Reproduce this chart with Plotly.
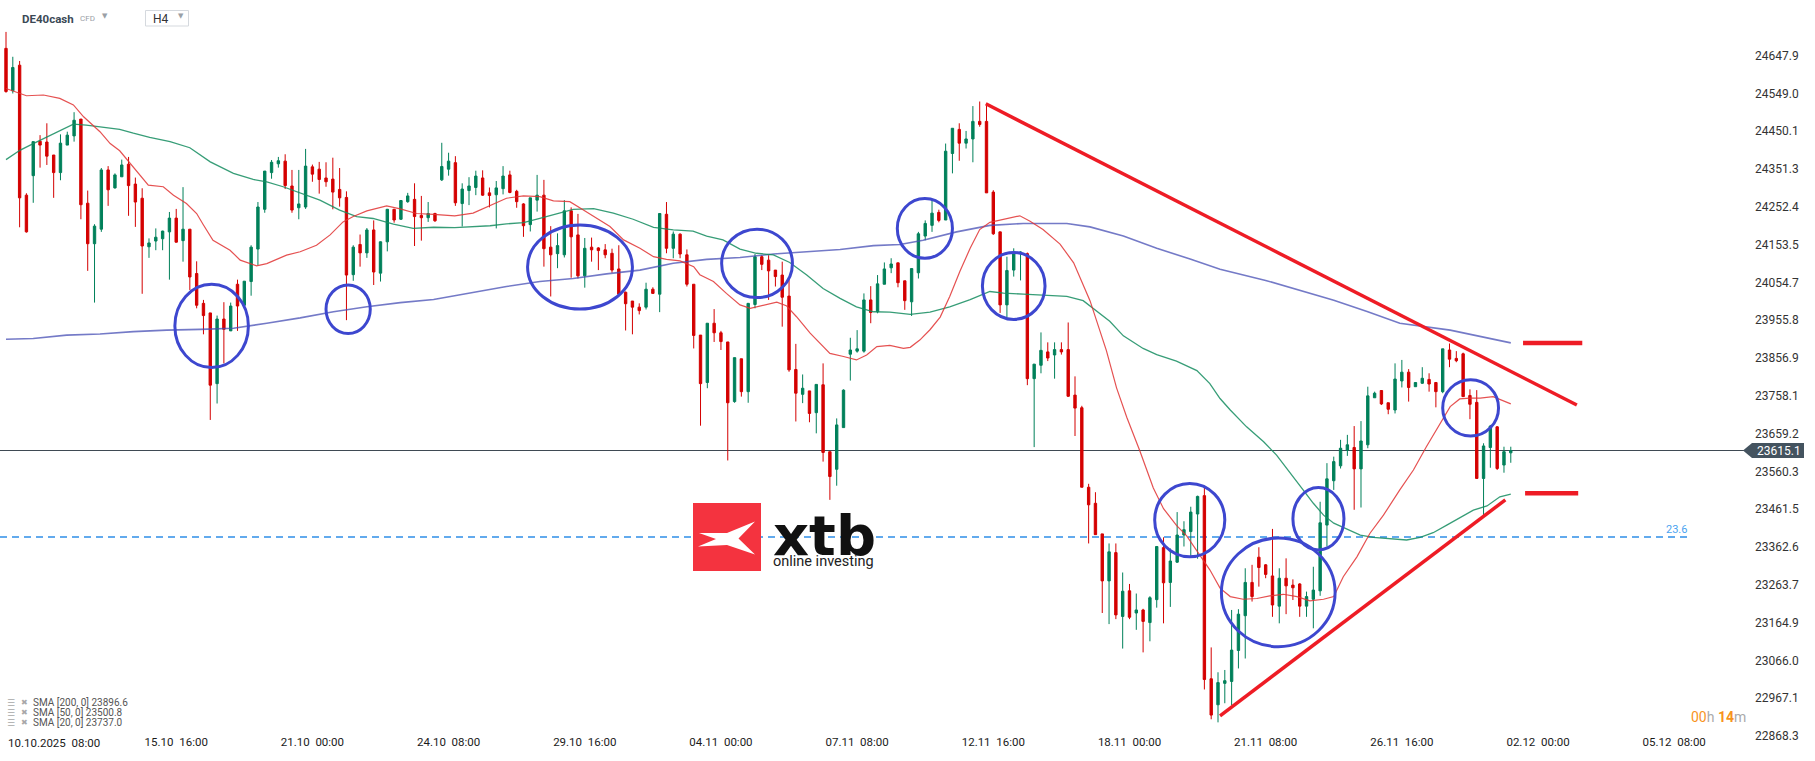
import plotly.graph_objects as go

# ---------------- data ----------------
opens = [24667,24556,24623,24283,24334,24424,24422,24388,24342,24414,
24438,24482,24262,24156,24194,24349,24302,24331,24364,24312,
24275,24148,24163,24169,24187,24223,24164,24194,24078,24000,
23975,23790,23959,23928,24050,23995,24057,24142,24246,24342,
24365,24372,24307,24250,24252,24357,24351,24328,24325,24298,
24277,24075,24154,24132,24192,24079,24161,24246,24220,24266,
24272,24230,24224,24235,24323,24351,24368,24261,24295,24303,
24328,24289,24284,24300,24336,24293,24260,24206,24270,24283,
24147,24130,24127,24242,24179,24072,24147,24145,24140,24131,
24090,24029,24006,23990,23990,24037,24024,24233,24144,24181,
24127,24050,23917,23793,23948,23923,23899,23743,23855,23769,
23997,24122,24113,24087,24074,24019,23827,23762,23771,23714,
23787,23612,23566,23675,23867,23875,23875,24009,23978,24050,
24093,24106,24059,24004,24080,24176,24204,24238,24218,24392,
24455,24419,24430,24476,24476,24291,24187,23996,24087,24131,
24130,23803,23838,23873,23865,23879,23879,23760,23727,23519,
23477,23397,23274,23348,23181,23248,23190,23198,23165,23225,
23361,23270,23323,23394,23403,23449,23497,23018,22950,23006,
23011,23092,23183,23270,23336,23316,23287,23208,23281,23263,
23266,23208,23226,23248,23420,23536,23575,23616,23623,23567,
23630,23753,23772,23740,23721,23797,23820,23782,23791,23801,
23793,23769,23878,23856,23868,23759,23741,23542,23623,23677,
23577,23609]

highs = [24710,24645,24634,24288,24423,24440,24471,24388,24442,24449,
24500,24482,24295,24207,24354,24359,24340,24376,24383,24329,
24301,24170,24196,24190,24239,24247,24304,24194,24110,24009,
23975,23968,24003,24002,24062,24058,24152,24265,24346,24375,
24383,24390,24349,24349,24404,24363,24370,24369,24381,24354,
24293,24152,24180,24197,24217,24162,24247,24247,24269,24289,
24314,24281,24265,24237,24420,24394,24385,24314,24330,24347,
24348,24303,24320,24359,24347,24297,24262,24276,24336,24323,
24202,24183,24270,24251,24234,24171,24172,24147,24155,24143,
24152,24031,24006,24000,24054,24042,24235,24265,24188,24183,
24141,24050,23917,23948,23985,23928,23899,23858,23855,24001,
24129,24126,24126,24087,24109,24064,23894,23814,23771,23788,
23843,23612,23699,23775,23910,23930,24026,24045,24074,24107,
24118,24106,24059,24091,24187,24217,24271,24245,24418,24458,
24471,24451,24516,24528,24522,24296,24187,24122,24144,24136,
24133,23841,23924,23898,23898,23898,23950,23809,23732,23528,
23506,23397,23372,23372,23296,23266,23241,23201,23234,23364,
23388,23359,23454,23430,23468,23497,23517,23100,23035,23041,
23198,23200,23307,23316,23362,23318,23410,23307,23333,23278,
23268,23246,23311,23481,23582,23599,23643,23656,23679,23692,
23782,23769,23773,23740,23843,23852,23828,23793,23833,23817,
23793,23881,23895,23875,23871,23775,23773,23634,23682,23679,
23625,23625]

lows = [24551,24549,24199,24185,24263,24355,24362,24276,24322,24414,
24423,24220,24085,24002,24187,24255,24300,24331,24229,24200,
24025,24119,24139,24139,24062,24159,24109,24035,23987,23919,
23695,23738,23843,23928,23928,23995,24020,24100,24237,24326,
24355,24299,24237,24220,24247,24318,24287,24305,24246,24253,
23956,24059,24096,24119,24048,24057,24136,24211,24218,24263,
24150,24164,24213,24213,24320,24334,24255,24201,24257,24283,
24281,24251,24196,24285,24288,24250,24174,24188,24240,24096,
24018,24092,24120,24067,24065,24041,24109,24087,24118,24080,
24018,23929,23919,23971,23984,24026,23977,24131,24118,24118,
24044,23882,23680,23778,23899,23878,23589,23740,23756,23740,
23987,24087,24009,24044,23939,23821,23691,23739,23689,23660,
23586,23486,23523,23675,23798,23871,23871,23948,23974,24050,
24079,24042,23983,23967,24065,24165,24187,24212,24218,24340,
24373,24405,24369,24462,24289,24179,23975,23964,24070,24060,
23786,23624,23817,23849,23803,23866,23755,23653,23519,23372,
23395,23190,23161,23174,23097,23174,23146,23087,23116,23204,
23163,23206,23321,23364,23337,23332,22990,22912,22904,22954,
22949,23045,23071,23220,23259,23281,23180,23163,23187,23224,
23180,23180,23150,23235,23364,23512,23568,23601,23460,23466,
23621,23753,23734,23710,23712,23780,23743,23782,23789,23769,
23728,23765,23833,23846,23756,23697,23542,23446,23570,23564,
23557,23583]

closes = [24554,24617,24276,24187,24423,24414,24385,24342,24419,24440,
24479,24258,24156,24202,24349,24297,24336,24362,24308,24265,
24150,24158,24173,24189,24223,24160,24194,24069,23995,23968,
23786,23959,23932,23993,23993,24058,24147,24252,24346,24369,
24373,24308,24244,24260,24359,24338,24324,24318,24291,24276,
24074,24147,24132,24192,24082,24161,24246,24218,24269,24281,
24227,24224,24235,24216,24358,24372,24263,24299,24307,24333,
24283,24282,24302,24333,24290,24266,24203,24276,24283,24143,
24127,24151,24242,24174,24072,24144,24140,24138,24127,24087,
24024,23999,23990,23981,24037,24026,24235,24144,24181,24129,
24050,23916,23790,23948,23923,23900,23740,23858,23769,24000,
24122,24102,24085,24070,24016,23826,23765,23778,23712,23788,
23610,23547,23682,23773,23878,23881,24009,23976,24051,24090,
24103,24054,24007,24091,24182,24209,24236,24217,24398,24458,
24419,24430,24476,24468,24289,24182,23996,24086,24133,24134,
23803,23841,23877,23857,23879,23873,23757,23726,23519,23473,
23395,23274,23350,23185,23247,23179,23198,23168,23230,23364,
23269,23326,23394,23408,23454,23495,23016,22923,23008,23013,
23093,23187,23270,23233,23309,23291,23211,23281,23261,23256,
23208,23233,23250,23426,23541,23586,23621,23630,23567,23640,
23758,23765,23737,23723,23802,23820,23780,23793,23804,23789,
23769,23881,23854,23850,23756,23736,23542,23627,23679,23568,
23612,23615.1]

# moving averages (bar position, value)
sma20_pos = [0,3,5.5,7.9,9.9,11.4,13.8,15.3,16.7,18.7,20.9,23.1,24.6,26.5,28,29,30.4,32.9,34.4,36.8,
             38.3,41.2,43.2,45.6,47.6,49.5,51,53,55.9,57.9,60.3,62.8,65.9,68.6,71.1,73.5,76,78.4,80.4,
             82.8,84.8,86.7,88.7,90.7,93.1,95.1,97,99,101,101.9,103.9,105.8,107.8,109.3,111.2,113.2,
             114.6,116.1,118.1,119.5,121,123,124.9,126.4,127.9,129.8,131.8,132.8,134.2,135.7,137.2,
             138.6,140.1,141.6,143,144.5,146.5,148.9,150.4,152.3,154.8,156.8,159.2,161.6,163.1,164.6,
             166.5,168.5,170,171.9,173.4,174.9,176.8,178.3,179.8,181.7,183.7,185.6,187.6,189.6,191.5,
             193.5,195,196.4,198.4,200.3,202.3,204.7,206.7,208.6,210.6,212.1,213.5,215,216.5,218.4,221]
sma20_val = [24562,24543,24545,24536,24519,24488,24449,24418,24399,24357,24309,24305,24283,24261,24235,
             24205,24165,24139,24113,24098,24104,24126,24135,24152,24179,24213,24227,24242,24255,24247,
             24235,24233,24229,24236,24257,24275,24281,24279,24268,24266,24244,24222,24201,24166,24144,
             24122,24115,24111,24096,24075,24057,24026,23996,23987,23994,24003,23994,23965,23922,23895,
             23869,23861,23852,23865,23887,23890,23882,23885,23904,23931,23964,24018,24084,24144,24193,
             24212,24220,24229,24215,24193,24155,24106,24007,23877,23779,23702,23615,23517,23463,23419,
             23392,23354,23303,23255,23233,23226,23228,23235,23239,23233,23222,23226,23233,23285,23337,
             23398,23446,23512,23564,23625,23686,23730,23750,23752,23752,23756,23737.0]

sma50_pos = [0,2.1,4,6,7.9,9.9,11.8,13.8,16.7,18.7,21.1,24.1,27,30,33.4,36.3,38.3,40.7,43.2,46.1,49,
             51.5,53.9,56.9,59.8,62.8,65.9,71.1,73.5,76,78.4,80.9,83.3,86.3,89.2,92.1,95.1,98,100.9,
             102.9,105.3,107.8,110.2,112.7,115.1,117.6,120,122.5,124.9,127.4,129.8,132.8,135.7,138.6,
             141.6,144.5,146.5,149.4,152.3,155.8,158.2,160.2,162.1,164.1,167,169,171.9,174.9,176.8,
             178.3,179.8,182.2,184.7,186.6,188.6,190.5,192,193.5,195,196.9,198.9,200.8,203.8,205.7,
             207.7,209.6,211.6,213.5,215.5,217.5,219.4,221]
sma50_val = [24376,24401,24418,24436,24453,24469,24466,24462,24455,24445,24434,24423,24407,24370,24340,
             24324,24318,24305,24288,24270,24244,24227,24222,24207,24196,24199,24198,24203,24208,24211,
             24222,24235,24246,24248,24236,24220,24199,24192,24189,24176,24166,24142,24131,24127,24107,
             24074,24039,24013,23991,23978,23977,23971,23977,23991,24010,24031,24027,24024,24021,24018,
             24007,23980,23953,23915,23882,23866,23849,23824,23790,23751,23721,23677,23638,23603,23555,
             23512,23477,23446,23425,23409,23394,23388,23383,23381,23388,23400,23420,23438,23459,23470,
             23494,23500.8]

sma200_pos = [0,4,8.9,13.8,18.7,23.6,28.5,33.4,38.3,43.2,48.1,53,57.9,62.8,66.5,73.5,78.4,83.3,88.2,
              93.1,98,102.9,107.8,112.7,117.6,122.5,127.4,131.3,134.7,139.6,144.5,149.4,155.8,159.2,
              164.1,169,173.9,178.3,185,190,195,200,204.7,212.1,216.9,221]
sma200_val = [23906,23908,23917,23920,23926,23930,23932,23935,23948,23962,23978,23991,24002,24010,24022,
              24044,24057,24065,24077,24087,24105,24115,24120,24129,24135,24141,24151,24154,24165,24187,
              24204,24209,24209,24200,24176,24144,24116,24089,24060,24035,24008,23978,23948,23930,23913,
              23896.6]

# axis labels
y_ticks = [22868.3,22967.1,23066.0,23164.9,23263.7,23362.6,23461.5,23560.3,23659.2,23758.1,
           23856.9,23955.8,24054.7,24153.5,24252.4,24351.3,24450.1,24549.0,24647.9]
x_tick_pos = [25,45,65,85,105,125,145,165,185,205,225,245]
x_tick_text = ["15.10  16:00","21.10  00:00","24.10  08:00","29.10  16:00","04.11  00:00",
               "07.11  08:00","12.11  16:00","18.11  00:00","21.11  08:00","26.11  16:00",
               "02.12  00:00","05.12  08:00"]
first_x_label = "10.10.2025  08:00"

last_price = 23615.1
fib_level = 23388.8
fib_label = "23.6"
sma_labels = ["SMA [200, 0] 23896.6", "SMA [50, 0] 23500.8", "SMA [20, 0] 23737.0"]

# analyst drawings (bar position / price)
down_trend = [(143.9, 24522), (230.7, 23734)]
up_trend = [(178.3, 22921), (220.2, 23486)]
level_marks = [(222.8, 231.5, 23896), (223.1, 230.9, 23503)]
circles = [(24.8, 35.6, 23832, 24050), (47.0, 53.5, 23921, 24048), (76.6, 92.0, 23985, 24205),
           (105.1, 115.5, 24015, 24194), (130.9, 139.0, 24118, 24274), (143.4, 152.6, 23958, 24133),
           (168.7, 179.0, 23337, 23529), (178.5, 195.2, 23102, 23386), (189.0, 196.5, 23355, 23518),
           (211.0, 219.2, 23653, 23800)]

# ---------------- layout helpers ----------------
W, H = 1815, 761
ML, MR, MT, MB = 0, 70, 0, 23
PW, PH = W - ML - MR, H - MT - MB
def pxx(x):
    return (x - ML) / PW
def pxy(y):
    return 1 - (y - MT) / PH

GREEN = "#00805a"
RED = "#d40000"
FONT = "Roboto"

fig = go.Figure()
fig.add_trace(go.Candlestick(
    x=list(range(len(opens))), open=opens, high=highs, low=lows, close=closes,
    increasing=dict(line=dict(color=GREEN, width=1), fillcolor=GREEN),
    decreasing=dict(line=dict(color=RED, width=1), fillcolor=RED),
    whiskerwidth=0, showlegend=False, hoverinfo="skip"))
fig.add_trace(go.Scatter(x=sma200_pos, y=sma200_val, mode="lines",
                         line=dict(color="rgba(70,78,180,0.75)", width=1.6), showlegend=False, hoverinfo="skip"))
fig.add_trace(go.Scatter(x=sma50_pos, y=sma50_val, mode="lines",
                         line=dict(color="rgba(20,140,95,0.85)", width=1.3), showlegend=False, hoverinfo="skip"))
fig.add_trace(go.Scatter(x=sma20_pos, y=sma20_val, mode="lines",
                         line=dict(color="rgba(225,50,50,0.85)", width=1.2), showlegend=False, hoverinfo="skip"))

shapes = []
shapes.append(dict(type="line", xref="paper", yref="y", x0=0, x1=1, y0=last_price, y1=last_price,
                   line=dict(color="#3f4a54", width=1), layer="below"))
shapes.append(dict(type="line", xref="paper", yref="y", x0=0, x1=pxx(1690), y0=fib_level, y1=fib_level,
                   line=dict(color="#2f8fe8", width=1.3, dash="7px,5px"), layer="below"))
TL = "#ee1c25"
for (xa, ya), (xb, yb) in [down_trend, up_trend]:
    shapes.append(dict(type="line", xref="x", yref="y", x0=xa, y0=ya, x1=xb, y1=yb,
                       line=dict(color=TL, width=3.5)))
for xa, xb, yv in level_marks:
    shapes.append(dict(type="line", xref="x", yref="y", x0=xa, x1=xb, y0=yv, y1=yv,
                       line=dict(color=TL, width=4.5)))
for xa, xb, ya, yb in circles:
    shapes.append(dict(type="circle", xref="x", yref="y", x0=xa, x1=xb, y0=ya, y1=yb,
                       line=dict(color="#3d47cf", width=3)))

# price tag
tag_top, tag_bot = last_price + 7.5 / 0.3823, last_price - 7.5 / 0.3823
shapes.append(dict(type="path", xref="paper", yref="y",
                   path=f"M {pxx(1743)},{last_price} L {pxx(1752)},{tag_top} L {pxx(1804)},{tag_top} "
                        f"L {pxx(1804)},{tag_bot} L {pxx(1752)},{tag_bot} Z",
                   fillcolor="#44535f", line=dict(width=0)))

# header H4 box
shapes.append(dict(type="rect", xref="paper", yref="paper", x0=pxx(145.5), x1=pxx(188.5),
                   y0=pxy(26), y1=pxy(10.5), line=dict(color="#d5d9de", width=1), fillcolor="white"))

# logo
shapes.append(dict(type="rect", xref="paper", yref="paper", x0=pxx(693), x1=pxx(761),
                   y0=pxy(571), y1=pxy(503), line=dict(width=0), fillcolor="#f4333f"))
logo_pts = [(699, 533), (727, 533), (755, 521.5), (738.5, 538.5), (755, 554.5), (727, 545),
            (698, 546.5), (716, 539)]
logo_path = "M " + " L ".join(f"{pxx(a)},{pxy(b)}" for a, b in logo_pts) + " Z"
shapes.append(dict(type="path", xref="paper", yref="paper", path=logo_path,
                   fillcolor="white", line=dict(width=0)))

ann = []
def text(x, y, s, size, color, anchor="left", bold=False, family=FONT):
    ann.append(dict(xref="paper", yref="paper", x=pxx(x), y=pxy(y), text=(f"<b>{s}</b>" if bold else s),
                    showarrow=False, xanchor=anchor, yanchor="middle",
                    font=dict(family=family, size=size, color=color)))

text(20, 18.5, "DE40cash", 11.5, "#3b4956", bold=True)
text(78, 18.5, "CFD", 8, "#9aa0a6")
text(105, 16.5, "▼", 7, "#9aa0a6", anchor="center", family="DejaVu Sans")
text(151, 18.5, "H4", 12, "#333333")
text(180.5, 16.5, "▼", 7, "#9aa0a6", anchor="center", family="DejaVu Sans")

# logo wordmark: one text block, two lines
ann.append(dict(xref="paper", yref="paper", x=pxx(771), y=pxy(536), xanchor="left", yanchor="middle",
                align="left", showarrow=False, font=dict(family=FONT, size=8.2, color="#222222"),
                text="<span style='font-size:56px;font-family:DejaVu Sans;font-weight:bold;fill:#111111'>xtb</span>"
                     "<br><span style='font-size:14.5px'>online investing</span>"))

for i, s in enumerate(sma_labels):
    yy = 702.7 + 10 * i
    text(5, yy, "☰", 9, "#a8a8a8", family="DejaVu Sans")
    text(19, yy, "✖", 8, "#a8a8a8", family="DejaVu Sans")
    text(31, yy, s, 10, "#555555")

text(6, 742.5, first_x_label, 11.5, "#1a1a1a")
text(1676, 529, fib_label, 11, "#4aa3f0", anchor="center")
ann.append(dict(xref="paper", yref="paper", x=pxx(1748), y=pxy(717), xanchor="right", yanchor="middle",
                showarrow=False, font=dict(family=FONT, size=14, color="#aaaaaa"),
                text="<span style='color:#f7941d'>00</span>h <span style='color:#f7941d'><b>14</b></span>m"))
ann.append(dict(xref="paper", yref="y", x=pxx(1755), y=last_price, xanchor="left", yanchor="middle",
                showarrow=False, text=f"{last_price:.1f}", font=dict(family=FONT, size=12, color="white")))

px_per_bar = 6.809
x0 = -(6 - ML) / px_per_bar
y_bottom = 22868.3 - (H - MB - 736) / 0.3823
y_top = y_bottom + PH / 0.3823

fig.update_layout(
    width=W, height=H, margin=dict(l=ML, r=MR, t=MT, b=MB),
    paper_bgcolor="white", plot_bgcolor="white", showlegend=False,
    boxgap=0.5,
    shapes=shapes, annotations=ann,
    xaxis=dict(range=[x0, x0 + PW / px_per_bar], showgrid=False, zeroline=False, showline=False,
               anchor="free", position=4.5 / PH,
               tickmode="array", tickvals=x_tick_pos, ticktext=x_tick_text, ticks="",
               tickfont=dict(family=FONT, size=11.5, color="#1a1a1a"), rangeslider=dict(visible=False),
               fixedrange=True),
    yaxis=dict(side="right", range=[y_bottom, y_top], showgrid=False, zeroline=False, showline=False,
               tickmode="array", tickvals=y_ticks, ticktext=[f"{v:.1f}" for v in y_ticks], ticks="",
               ticklabelstandoff=9, tickfont=dict(family=FONT, size=12, color="#333333"), fixedrange=True),
    hovermode=False,
)

fig.write_html("out.html", config={"displayModeBar": False},
               post_script="document.body.style.margin='0';document.body.style.overflow='hidden';")
